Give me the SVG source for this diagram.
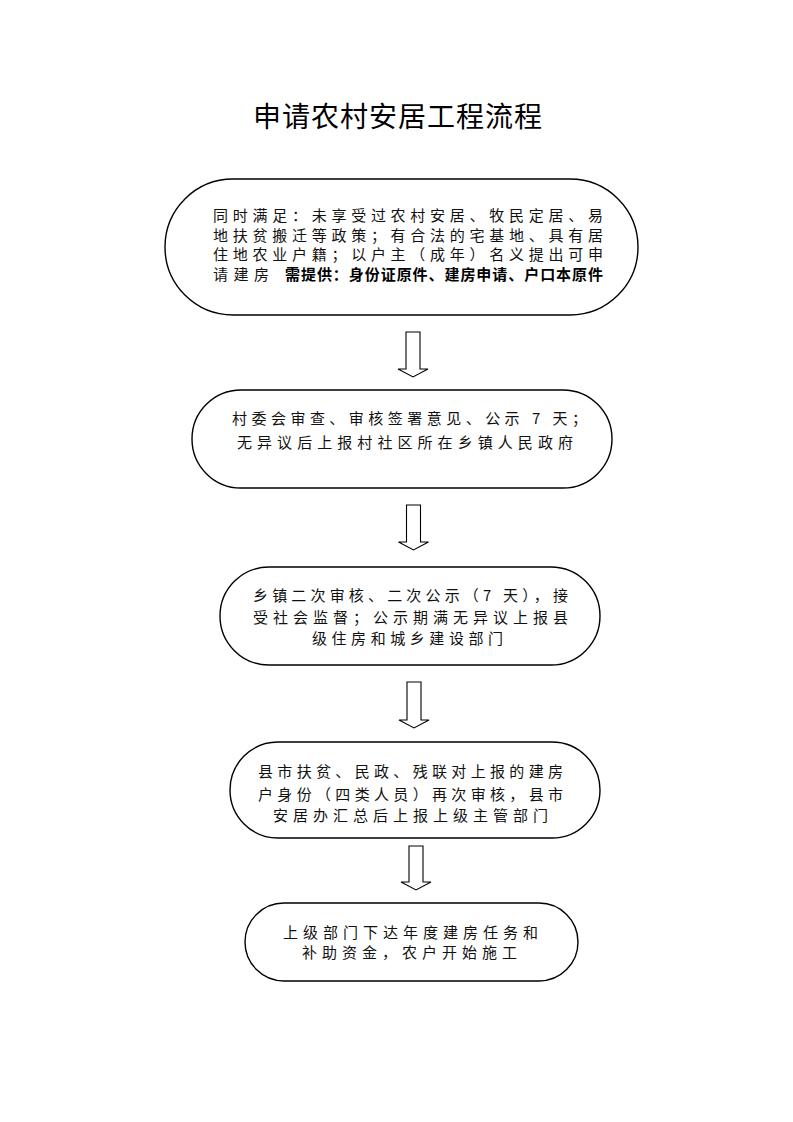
<svg xmlns="http://www.w3.org/2000/svg" width="793" height="1122" viewBox="0 0 793 1122">
<style>
.bg{fill:#ffffff}
.box{fill:#ffffff;stroke:#000000;stroke-width:1.4}
.arrow{fill:#ffffff;stroke:#000000;stroke-width:1.1;stroke-linejoin:miter}
.t{font-family:"Noto Sans CJK SC","Noto Sans CJK JP",sans-serif;font-size:15px;fill:#111111}
.b{font-family:"Noto Sans CJK SC","Noto Sans CJK JP",sans-serif;font-size:15px;font-weight:bold;fill:#000000}
.title{font-family:"Noto Sans CJK SC","Noto Sans CJK JP",sans-serif;font-size:28px;fill:#000000}
</style>
<rect class="bg" x="0" y="0" width="793" height="1122"/>
<text class="title" x="253" y="127" textLength="289" lengthAdjust="spacing">申请农村安居工程流程</text>

<g id="node1">
<rect class="box" x="165" y="179" width="473" height="136" rx="68" ry="68"/>
<text class="t" x="213" y="221" textLength="390" lengthAdjust="spacing">同时满足：未享受过农村安居、牧民定居、易</text>
<text class="t" x="213" y="240.5" textLength="390" lengthAdjust="spacing">地扶贫搬迁等政策；有合法的宅基地、具有居</text>
<text class="t" x="213" y="260" textLength="390" lengthAdjust="spacing">住地农业户籍；以户主（成年）名义提出可申</text>
<text class="t" x="213" y="280" textLength="56" lengthAdjust="spacing">请建房</text>
<text class="b" x="285" y="280" textLength="318" lengthAdjust="spacing">需提供：身份证原件、建房申请、户口本原件</text>
</g>

<g id="node2">
<rect class="box" x="192" y="390" width="420" height="98" rx="49" ry="49"/>
<text class="t" x="232" y="424" textLength="355" lengthAdjust="spacing">村委会审查、审核签署意见、公示 7 天；</text>
<text class="t" x="237" y="448" textLength="336" lengthAdjust="spacing">无异议后上报村社区所在乡镇人民政府</text>
</g>

<g id="node3">
<rect class="box" x="220" y="567" width="380" height="98" rx="49" ry="49"/>
<text class="t" x="253" y="601" textLength="315" lengthAdjust="spacing">乡镇二次审核、二次公示（7 天），接</text>
<text class="t" x="253" y="623" textLength="315" lengthAdjust="spacing">受社会监督；公示期满无异议上报县</text>
<text class="t" x="312" y="644" textLength="191" lengthAdjust="spacing">级住房和城乡建设部门</text>
</g>

<g id="node4">
<rect class="box" x="230" y="742" width="370" height="96" rx="48" ry="48"/>
<text class="t" x="258" y="777" textLength="305" lengthAdjust="spacing">县市扶贫、民政、残联对上报的建房</text>
<text class="t" x="258" y="800" textLength="305" lengthAdjust="spacing">户身份（四类人员）再次审核，县市</text>
<text class="t" x="273" y="821" textLength="275" lengthAdjust="spacing">安居办汇总后上报上级主管部门</text>
</g>

<g id="node5">
<rect class="box" x="245" y="903" width="333" height="78" rx="39" ry="39"/>
<text class="t" x="283" y="938" textLength="255" lengthAdjust="spacing">上级部门下达年度建房任务和</text>
<text class="t" x="302" y="958" textLength="215" lengthAdjust="spacing">补助资金，农户开始施工</text>
</g>

<g id="connectors">
<path class="arrow" d="M406,332 L420,332 L420,369 L428,369 L413,377 L398,369 L406,369 Z"/>
<path class="arrow" d="M406.5,505 L420.5,505 L420.5,542 L428.5,542 L413.5,550 L398.5,542 L406.5,542 Z"/>
<path class="arrow" d="M407,682 L421,682 L421,720 L429,720 L414,728 L399,720 L407,720 Z"/>
<path class="arrow" d="M409,846 L423,846 L423,882 L431,882 L416,890 L401,882 L409,882 Z"/>
</g>
</svg>
